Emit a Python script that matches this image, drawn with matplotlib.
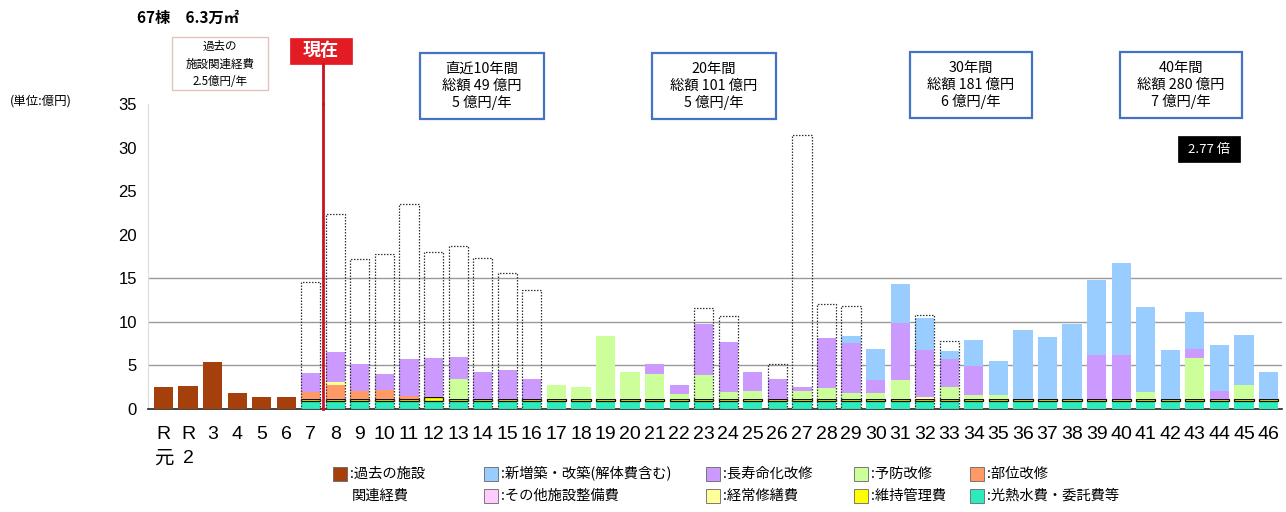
import numpy as np
import matplotlib
matplotlib.use("Agg")
import matplotlib.pyplot as plt
import matplotlib.font_manager as fm
from matplotlib.patches import Rectangle

# ---------------- data ----------------
categories = ["R\n元", "R\n2"] + [str(i) for i in range(3, 47)]

past_cost = [2.5, 2.67, 5.4, 1.85, 1.4, 1.4] + [0] * 40

# years 7..46
util = [0] * 6 + [0.9] * 40                      # 光熱水費・委託費等
maint = [0] * 6 + [0.25] * 5 + [0.45] + [0.25] * 34  # 維持管理費
part = [0] * 6 + [0.85, 1.65, 0.95, 1.05, 0.35] + [0] * 35  # 部位改修
repair = [0] * 46                                # 経常修繕費
repair[7] = 0.3
repair[31] = 0.25
other = [0] * 46                                 # その他施設整備費

prev = [0] * 46                                  # 予防改修
for yr, v in {13: 2.25, 17: 1.65, 18: 1.35, 19: 7.25, 20: 3.15, 21: 2.9, 22: 0.6,
              23: 2.75, 24: 0.75, 25: 0.95, 27: 0.95, 28: 1.25, 29: 0.65, 30: 0.7,
              31: 2.15, 33: 1.35, 34: 0.45, 35: 0.45, 41: 0.75, 43: 4.65, 45: 1.65}.items():
    prev[yr - 1] = v

life = [0] * 46                                  # 長寿命化改修
for yr, v in {7: 2.1, 8: 3.4, 9: 3.1, 10: 1.8, 11: 4.2, 12: 4.45, 13: 2.6, 14: 3.05,
              15: 3.35, 16: 2.35, 21: 1.15, 22: 1.05, 23: 5.9, 24: 5.8, 25: 2.2,
              26: 2.35, 27: 0.4, 28: 5.7, 29: 5.8, 30: 1.45, 31: 6.55, 32: 5.4,
              33: 3.25, 34: 3.3, 39: 5.05, 40: 5.05, 43: 1.1, 44: 0.95}.items():
    life[yr - 1] = v

new = [0] * 46                                   # 新増築・改築
for yr, v in {29: 0.8, 30: 3.6, 31: 4.55, 32: 3.7, 33: 0.85, 34: 3.05, 35: 3.9,
              36: 7.95, 37: 7.15, 38: 8.55, 39: 8.55, 40: 10.5, 41: 9.8, 42: 5.65,
              43: 4.2, 44: 5.2, 45: 5.7, 46: 3.05}.items():
    new[yr - 1] = v

plan_total = [np.nan] * 46                       # dotted outline totals
for yr, v in {7: 14.6, 8: 22.4, 9: 17.2, 10: 17.8, 11: 23.5, 12: 18.0, 13: 18.7,
              14: 17.3, 15: 15.6, 16: 13.7, 23: 11.6, 24: 10.7, 26: 5.2, 27: 31.5,
              28: 12.0, 29: 11.8, 32: 10.8, 33: 7.8}.items():
    plan_total[yr - 1] = v

yticks = [0, 5, 10, 15, 20, 25, 30, 35]
grid_levels = [5, 10, 15]

# ---------------- fonts ----------------
names = {f.name for f in fm.fontManager.ttflist}
NARROW = "Liberation Sans Narrow" if "Liberation Sans Narrow" in names else "Liberation Sans"
JP = "Noto Sans CJK JP"
plt.rcParams["font.family"] = [JP, "DejaVu Sans"]

W, H = 1286, 512
fig = plt.figure(figsize=(W / 100, H / 100), dpi=100)
ax = fig.add_axes([148 / W, 1 - 409 / H, (1282 - 148) / W, (409 - 104) / H])

x = np.arange(len(categories))
bw = 0.78

series = [
    (past_cost, "#A5400C", None),
    (util, "#2EEBBE", None),
    (maint, "#FFFF00", "#111111"),
    (part, "#FF9966", None),
    (repair, "#FFFF99", None),
    (other, "#FFCCFF", None),
    (prev, "#CCFF99", None),
    (life, "#CC99FF", None),
    (new, "#99CCFF", None),
]
bottom = np.zeros(len(categories))
for vals, col, ec in series:
    vals = np.array(vals, dtype=float)
    if ec:
        ecs = [ec if v > 0 else "none" for v in vals]
        ax.bar(x, vals, bw, bottom=bottom, color=col, edgecolor=ecs, linewidth=0.9, zorder=3)
    else:
        ax.bar(x, vals, bw, bottom=bottom, color=col, linewidth=0, zorder=3)
    bottom += vals

ax.bar(x, np.array(plan_total, dtype=float), bw, fill=False, edgecolor="#333333",
       linestyle=(0, (1.2, 1.2)), linewidth=0.9, zorder=4)

for g in grid_levels:
    ax.axhline(g, color="#9a9a9a", linewidth=1.0, zorder=1)

ax.set_xlim(-0.63, len(categories) - 1 + 0.55)
ax.set_ylim(0, 35)
ax.set_yticks(yticks)
ax.set_yticklabels([str(v) for v in yticks], fontfamily="Liberation Sans", fontsize=12)
ax.set_xticks(x)
ax.set_xticklabels(categories, fontsize=14, linespacing=1.6)
for t in ax.get_xticklabels():
    t.set_fontfamily([NARROW, JP])
ax.tick_params(axis="x", length=0, pad=12)
ax.tick_params(axis="y", length=0, pad=8)
for s in ["top", "right"]:
    ax.spines[s].set_visible(False)
ax.spines["left"].set_color("#dddddd")
ax.spines["bottom"].set_color("#222222")
ax.spines["bottom"].set_linewidth(1.2)

# current-year line
ax.axvline(6.5, ymin=0, ymax=1, color="#CC1122", linewidth=2.0, zorder=5, clip_on=False)


def fx(px):
    return px / W


def fy(py):
    return 1 - py / H


# red line extension above axes to the 現在 box
fig.add_artist(plt.Line2D([fx(323), fx(323)], [fy(104), fy(64)], color="#CC1122",
                          linewidth=2.0, transform=fig.transFigure))


def fbox(x0, y0, x1, y1, ec, fc="white", lw=1.2):
    fig.add_artist(Rectangle((fx(x0), fy(y1)), (x1 - x0) / W, (y1 - y0) / H,
                             transform=fig.transFigure, facecolor=fc, edgecolor=ec,
                             linewidth=lw))


# title & unit
fig.text(fx(137), fy(18), "67棟　6.3万㎡", fontsize=11, fontweight="bold",
         ha="left", va="center")
fig.text(fx(10), fy(101), "(単位:億円)", fontsize=9, ha="left", va="center")

# past box
fbox(172, 37, 268, 90, "#E2C4B8", lw=1.0)
fig.text(fx(220), fy(64), "過去の\n施設関連経費\n2.5億円/年", fontsize=8.3,
         ha="center", va="center", linespacing=1.45)

# 現在 box
fbox(290, 38, 352, 64, "#E31B23", fc="#E31B23", lw=0.5)
fig.text(fx(321), fy(51), "現在", fontsize=13, fontweight="bold", color="white",
         ha="center", va="center")

# summary boxes
for (x0, y0, x1, y1, txt) in [
    (420, 53, 544, 119, "直近10年間\n総額 49 億円\n5 億円/年"),
    (652, 53, 776, 119, "20年間\n総額 101 億円\n5 億円/年"),
    (910, 52, 1032, 118, "30年間\n総額 181 億円\n6 億円/年"),
    (1120, 52, 1242, 118, "40年間\n総額 280 億円\n7 億円/年"),
]:
    fbox(x0, y0, x1, y1, "#4472C4", lw=1.6)
    fig.text(fx((x0 + x1) / 2), fy((y0 + y1) / 2), txt, fontsize=10.3,
             ha="center", va="center", linespacing=1.2)

fbox(1178, 136, 1240, 162, "black", fc="black", lw=0.5)
fig.text(fx(1209), fy(149), "2.77 倍", fontsize=9.5, color="white",
         ha="center", va="center")

# legend
legend_items = [
    (333, 467, "#A5400C", ":過去の施設"),
    (484, 467, "#99CCFF", ":新増築・改築(解体費含む)"),
    (706, 467, "#CC99FF", ":長寿命化改修"),
    (854, 467, "#CCFF99", ":予防改修"),
    (970, 467, "#FF9966", ":部位改修"),
    (484, 489, "#FFCCFF", ":その他施設整備費"),
    (706, 489, "#FFFF99", ":経常修繕費"),
    (854, 489, "#FFFF00", ":維持管理費"),
    (970, 489, "#2EEBBE", ":光熱水費・委託費等"),
]
for lx, ly, col, lab in legend_items:
    fbox(lx, ly, lx + 14, ly + 14, "#666666", fc=col, lw=0.6)
    fig.text(fx(lx + 17), fy(ly + 7), lab, fontsize=10.3, ha="left", va="center")
fig.text(fx(352), fy(496), "関連経費", fontsize=10.3, ha="left", va="center")

fig.savefig("out.png", dpi=100)
